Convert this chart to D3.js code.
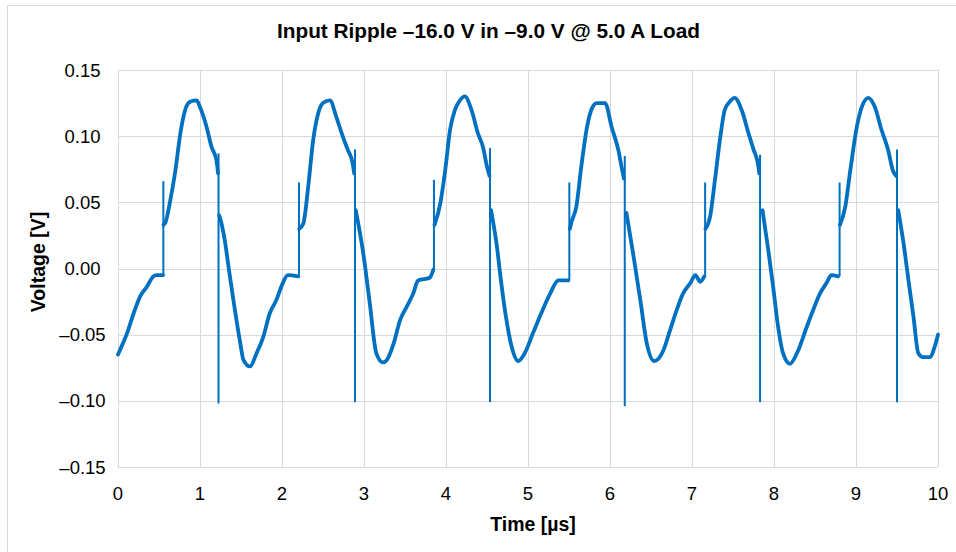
<!DOCTYPE html>
<html>
<head>
<meta charset="utf-8">
<script src="https://cdn.jsdelivr.net/npm/d3@7"></script>
<style>
  html, body { margin: 0; padding: 0; background: #fff; }
  svg { display: block; font-family: "Liberation Sans", Arial, sans-serif; }
</style>
</head>
<body>
<svg id="chart" width="956" height="552"></svg>
<script>
// ---- data ----
const titleText = "Input Ripple \u201316.0 V in \u20139.0 V @ 5.0 A Load";
const xTitle = "Time [\u00b5s]";
const yTitle = "Voltage [V]";
const xTickValues = [0, 1, 2, 3, 4, 5, 6, 7, 8, 9, 10];
const xTickLabels = ["0", "1", "2", "3", "4", "5", "6", "7", "8", "9", "10"];
const yTickValues = [0.15, 0.10, 0.05, 0.00, -0.05, -0.10, -0.15];
const yTickLabels = ["0.15", "0.10", "0.05", "0.00", "\u20130.05", "\u20130.10", "\u20130.15"];

// main trace (null = break where a fast edge/spike occurs)
const timeUs = [
  0.00, 0.05, 0.11, 0.19, 0.27, 0.35, 0.43, 0.47, 0.55, null,
  0.556, 0.58, 0.63, 0.70, 0.76, 0.82, 0.88, 0.96, 1.00, 1.08, 1.14, 1.20, 1.22, null,
  1.235, 1.25, 1.30, 1.36, 1.42, 1.49, 1.53, 1.61, 1.69, 1.77, 1.85, 1.93, 2.01, 2.07, 2.20, null,
  2.21, 2.26, 2.32, 2.38, 2.44, 2.50, 2.585, 2.66, 2.74, 2.80, 2.86, 2.88, null,
  2.90, 2.99, 3.07, 3.15, 3.23, 3.28, 3.36, 3.44, 3.52, 3.60, 3.66, 3.80, 3.845, null,
  3.86, 3.93, 3.99, 4.05, 4.11, 4.17, 4.23, 4.31, 4.39, 4.45, 4.50, 4.53, null,
  4.55, 4.62, 4.67, 4.73, 4.80, 4.88, 4.96, 5.06, 5.16, 5.27, 5.37, 5.49, null,
  5.51, 5.53, 5.59, 5.65, 5.72, 5.78, 5.84, 5.94, 6.02, 6.10, 6.15, 6.17, null,
  6.20, 6.28, 6.37, 6.45, 6.54, 6.65, 6.72, 6.81, 6.89, 6.98, 7.04, 7.10, 7.15, null,
  7.165, 7.22, 7.28, 7.34, 7.40, 7.46, 7.52, 7.61, 7.69, 7.75, 7.81, 7.82, null,
  7.86, 7.93, 7.99, 8.05, 8.11, 8.195, 8.28, 8.40, 8.48, 8.56, 8.64, 8.70, 8.78, null,
  8.805, 8.87, 8.93, 9.01, 9.07, 9.15, 9.23, 9.31, 9.39, 9.45, 9.49, null,
  9.515, 9.58, 9.64, 9.70, 9.76, 9.82, 9.90, 9.96, 10.0
];
const voltageV = [
  -0.065, -0.058, -0.049, -0.034, -0.021, -0.014, -0.006, -0.005, -0.005, null,
  0.033, 0.035, 0.049, 0.074, 0.102, 0.120, 0.126, 0.127, 0.122, 0.107, 0.092, 0.082, 0.072, null,
  0.040, 0.037, 0.022, -0.004, -0.029, -0.056, -0.069, -0.074, -0.064, -0.052, -0.034, -0.024, -0.011, -0.005, -0.006, null,
  0.030, 0.034, 0.062, 0.097, 0.117, 0.125, 0.127, 0.115, 0.100, 0.090, 0.080, 0.072, null,
  0.044, 0.012, -0.026, -0.064, -0.071, -0.069, -0.057, -0.039, -0.029, -0.019, -0.009, -0.007, -0.001, null,
  0.033, 0.049, 0.074, 0.105, 0.120, 0.127, 0.130, 0.120, 0.102, 0.092, 0.077, 0.070, null,
  0.044, 0.017, -0.009, -0.036, -0.059, -0.070, -0.064, -0.049, -0.034, -0.019, -0.009, -0.009, null,
  0.030, 0.035, 0.047, 0.077, 0.107, 0.121, 0.125, 0.125, 0.107, 0.090, 0.074, 0.068, null,
  0.042, 0.012, -0.024, -0.057, -0.070, -0.062, -0.049, -0.032, -0.019, -0.011, -0.005, -0.010, -0.006, null,
  0.030, 0.039, 0.067, 0.097, 0.120, 0.126, 0.129, 0.119, 0.102, 0.090, 0.077, 0.072, null,
  0.044, 0.014, -0.014, -0.044, -0.064, -0.072, -0.064, -0.044, -0.031, -0.019, -0.011, -0.005, -0.006, null,
  0.033, 0.047, 0.074, 0.107, 0.122, 0.129, 0.122, 0.105, 0.090, 0.074, 0.070, null,
  0.044, 0.019, -0.009, -0.036, -0.064, -0.067, -0.067, -0.059, -0.050
];

// fast switching spikes (thin vertical excursions)
const spikeTime = [0.553, 1.226, 2.207, 2.890, 3.853, 4.537, 5.504, 6.180, 7.160, 7.830, 8.800, 9.500];
const spikeHigh = [0.066, 0.087, 0.065, 0.090, 0.067, 0.091, 0.065, 0.085, 0.065, 0.086, 0.065, 0.090];
const spikeLow  = [-0.005, -0.102, -0.006, -0.101, -0.001, -0.101, -0.009, -0.104, -0.006, -0.101, -0.006, -0.101];

// ---- layout ----
const W = 956, H = 552;
const plot = { left: 118, top: 70, right: 938, bottom: 467 };
const traceColor = "#0070C0";
const gridColor = "#d9d9d9";

const svg = d3.select("#chart");

// outer chart border (continues past the visible window on right/bottom)
svg.append("rect")
  .attr("x", 7.5).attr("y", 5.5).attr("width", 1000).attr("height", 600)
  .attr("fill", "#fff").attr("stroke", gridColor).attr("stroke-width", 1);

const x = d3.scaleLinear().domain([0, 10]).range([plot.left, plot.right]);
const y = d3.scaleLinear().domain([-0.15, 0.15]).range([plot.bottom, plot.top]);

// gridlines
const g = svg.append("g");
g.selectAll("line.h").data(yTickValues).join("line")
  .attr("class", "h")
  .attr("x1", plot.left).attr("x2", plot.right)
  .attr("y1", d => Math.round(y(d)) + 0.5).attr("y2", d => Math.round(y(d)) + 0.5)
  .attr("stroke", gridColor).attr("stroke-width", 1);
g.selectAll("line.v").data(xTickValues).join("line")
  .attr("class", "v")
  .attr("y1", plot.top).attr("y2", plot.bottom)
  .attr("x1", d => Math.round(x(d)) + 0.5).attr("x2", d => Math.round(x(d)) + 0.5)
  .attr("stroke", gridColor).attr("stroke-width", 1);

// y tick labels (centered column, as in the reference)
svg.append("g").selectAll("text").data(yTickValues).join("text")
  .attr("x", 82.5)
  .attr("y", d => y(d) + 6.5)
  .attr("text-anchor", "middle")
  .attr("font-size", 18.5)
  .attr("fill", "#000")
  .text((d, i) => yTickLabels[i]);

// x tick labels
svg.append("g").selectAll("text").data(xTickValues).join("text")
  .attr("x", d => x(d))
  .attr("y", 499.5)
  .attr("text-anchor", "middle")
  .attr("font-size", 18.5)
  .attr("fill", "#000")
  .text((d, i) => xTickLabels[i]);

// trace
const traceData = timeUs.map((t, i) => ({ t: t, v: voltageV[i] }));
const line = d3.line()
  .defined(d => d.t !== null && d.v !== null)
  .x(d => x(d.t)).y(d => y(d.v))
  .curve(d3.curveMonotoneX);
svg.append("path")
  .datum(traceData)
  .attr("d", line)
  .attr("fill", "none")
  .attr("stroke", traceColor)
  .attr("stroke-width", 3.8)
  .attr("stroke-linejoin", "round")
  .attr("stroke-linecap", "round");

// spikes
svg.append("g").selectAll("line").data(spikeTime).join("line")
  .attr("x1", d => x(d)).attr("x2", d => x(d))
  .attr("y1", (d, i) => y(spikeHigh[i])).attr("y2", (d, i) => y(spikeLow[i]))
  .attr("stroke", traceColor).attr("stroke-width", 2);

// titles
svg.append("text")
  .attr("x", 488.5).attr("y", 38)
  .attr("text-anchor", "middle")
  .attr("font-size", 20).attr("font-weight", "bold")
  .attr("textLength", 423).attr("lengthAdjust", "spacingAndGlyphs")
  .attr("fill", "#000")
  .text(titleText);

svg.append("text")
  .attr("x", 533).attr("y", 531)
  .attr("text-anchor", "middle")
  .attr("font-size", 19.5).attr("font-weight", "bold")
  .attr("fill", "#000")
  .text(xTitle);

svg.append("text")
  .attr("transform", "translate(45,262) rotate(-90)")
  .attr("text-anchor", "middle")
  .attr("font-size", 19.5).attr("font-weight", "bold")
  .attr("fill", "#000")
  .text(yTitle);
</script>
</body>
</html>
